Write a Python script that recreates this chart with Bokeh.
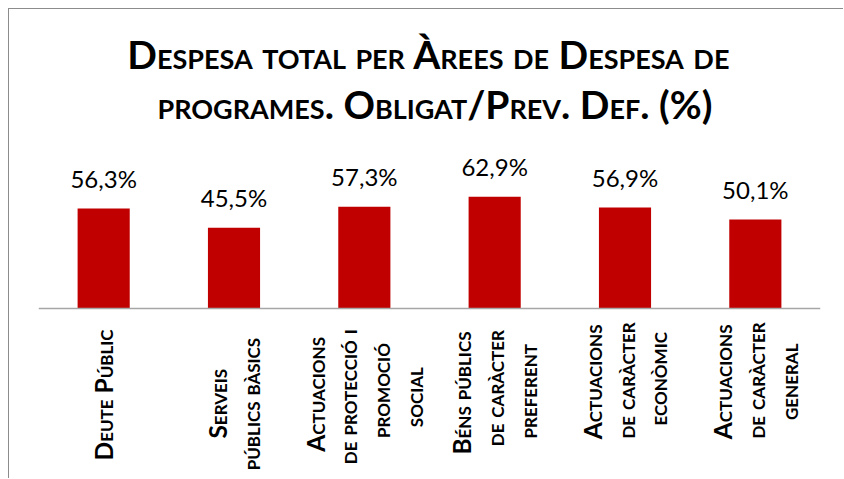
import numpy as np
from bokeh.plotting import figure
from bokeh.models import ColumnDataSource, Range1d, FactorRange, Label, Span
from bokeh.embed import file_html
from bokeh.resources import INLINE
from bokeh.core.properties import value

# ---- data ----
title_lines = ["Despesa total per Àrees de Despesa de",
               "programes. Obligat/Prev. Def. (%)"]
categories = ["Deute Públic",
              "Serveis públics bàsics",
              "Actuacions de protecció i promoció social",
              "Béns públics de caràcter preferent",
              "Actuacions de caràcter econòmic",
              "Actuacions de caràcter general"]
category_label_lines = [["Deute Públic"],
                        ["Serveis", "públics bàsics"],
                        ["Actuacions", "de protecció i", "promoció", "social"],
                        ["Béns públics", "de caràcter", "preferent"],
                        ["Actuacions", "de caràcter", "econòmic"],
                        ["Actuacions", "de caràcter", "general"]]
values = [56.3, 45.5, 57.3, 62.9, 56.9, 50.1]
value_labels = ["56,3%", "45,5%", "57,3%", "62,9%", "56,9%", "50,1%"]

# ---- layout / style ----
W, H = 835, 470
BASE = 299.0          # px from top of figure to the zero line
K = 1.775             # px per percentage point
LABEL_GAP = 30.5      # px from bar top to value label anchor
XLAB_TOP = 17.0       # px below zero line where category labels end
XLAB_SIZE = 24.5
XLAB_LINE = 32.7
TITLE_SIZE = 39
TITLE_Y = [44.0, 94.5]
FONT = "Lato"

PUNCT = {" ": 0.19, ".": 0.24, ",": 0.24, "/": 0.36, "(": 0.30, ")": 0.30,
         "%": 0.86}

def sc_width(s, size):
    """Approximate rendered width of bold small-caps text."""
    w = 0.0
    for ch in s:
        if ch in PUNCT:
            w += PUNCT[ch]
        elif ch.isupper():
            w += 0.68
        elif ch.islower():
            w += 0.44
        else:
            w += 0.5
    return w * size

def px_to_data(px_from_top):
    return (BASE - px_from_top) / K

p = figure(width=W, height=H, output_backend="svg", toolbar_location=None,
           x_range=FactorRange(factors=categories, range_padding=0),
           y_range=Range1d(px_to_data(H), px_to_data(0)),
           x_axis_location=None, y_axis_location=None,
           min_border_left=29, min_border_right=24,
           min_border_top=0, min_border_bottom=0)
p.grid.visible = False
p.outline_line_color = None
p.background_fill_color = "white"
p.border_fill_color = "white"
p.styles = {"font-variant": "small-caps",
            "margin-left": "8px", "margin-top": "8px",
            "border-left": "1px solid #8c8c8c",
            "border-top": "1px solid #8c8c8c"}

src = ColumnDataSource(dict(
    cat=categories, val=values, vlabel=value_labels,
    label_y=[v + LABEL_GAP / K for v in values],
))
p.vbar(x="cat", top="val", width=0.4, source=src,
       fill_color="#C00000", line_color=None)
p.add_layout(Span(location=0, dimension="width", line_color="#a6a6a6",
                  line_width=1.5))
p.text(x="cat", y="label_y", text="vlabel", source=src,
       text_align="center", text_baseline="alphabetic",
       text_font=value(FONT), text_font_size="24px", text_color="#000000")

# category labels: rotated, one text per line, lines centred in their block
lx, ly, lt, lo = [], [], [], []
for cat, lines in zip(categories, category_label_lines):
    widths = [sc_width(t, XLAB_SIZE) for t in lines]
    maxw = max(widths)
    n_l = len(lines)
    for i, (t, w) in enumerate(zip(lines, widths)):
        lx.append(cat)
        ly.append(-(XLAB_TOP + (maxw + w) / 2) / K)
        lt.append(t)
        lo.append((i - (n_l - 1) / 2) * XLAB_LINE)
xsrc = ColumnDataSource(dict(x=lx, y=ly, text=lt, xo=lo))
p.text(x="x", y="y", text="text", x_offset="xo", source=xsrc,
       angle=np.pi / 2, anchor="center_left",
       text_font=value(FONT), text_font_style="bold",
       text_font_size=f"{XLAB_SIZE}px", text_color="#000000")

n = len(categories)
for line, px in zip(title_lines, TITLE_Y):
    p.add_layout(Label(x=n / 2, y=px_to_data(px), text=line,
                       x_offset=-sc_width(line, TITLE_SIZE) / 2,
                       text_align="left", text_baseline="alphabetic",
                       text_font=FONT, text_font_style="bold",
                       text_font_size=f"{TITLE_SIZE}px", text_color="#000000"))

open("out.html", "w").write(file_html(p, INLINE))
